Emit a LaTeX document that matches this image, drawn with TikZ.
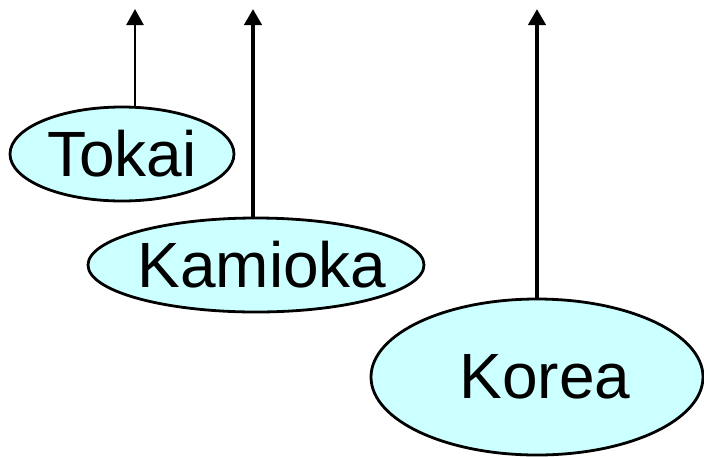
\documentclass[tikz,border=0pt]{standalone}
\usepackage{fontspec}
\setmainfont{Liberation Sans}
\usetikzlibrary{shapes.geometric,arrows.meta}
\definecolor{paleCyan}{HTML}{CCFFFF}
\newcommand{\zerow}[2][0pt]{\makebox[0pt]{\kern#1\raisebox{-2pt}{#2}}}
\tikzset{
  site/.style={ellipse, draw=black, line width=2.8pt, fill=paleCyan, inner sep=0pt, font=\fontsize{64}{64}\selectfont},
  upArrow/.style={line width=4pt, -{Triangle[width=17pt,length=16pt]}},
}
\begin{document}
\begin{tikzpicture}[x=1pt,y=-1pt]
\useasboundingbox (0,0) rectangle (704,456);
\node[site, minimum width=224pt, minimum height=94pt] (tokai) at (122,154) {\zerow{Tokai}};
\node[site, minimum width=336pt, minimum height=94pt] (kamioka) at (256,265) {\zerow[12pt]{Kamioka}};
\node[site, minimum width=332pt, minimum height=156pt] (korea) at (537,377) {\zerow[16pt]{Korea}};
\coordinate (t1) at (135,9);
\coordinate (t2) at (253,9);
\coordinate (t3) at (537,9);
\draw[upArrow, line width=2.6pt] (tokai.north -| t1) -- (t1);
\draw[upArrow] (kamioka.north -| t2) -- (t2);
\draw[upArrow] (korea.north -| t3) -- (t3);
\end{tikzpicture}
\end{document}
